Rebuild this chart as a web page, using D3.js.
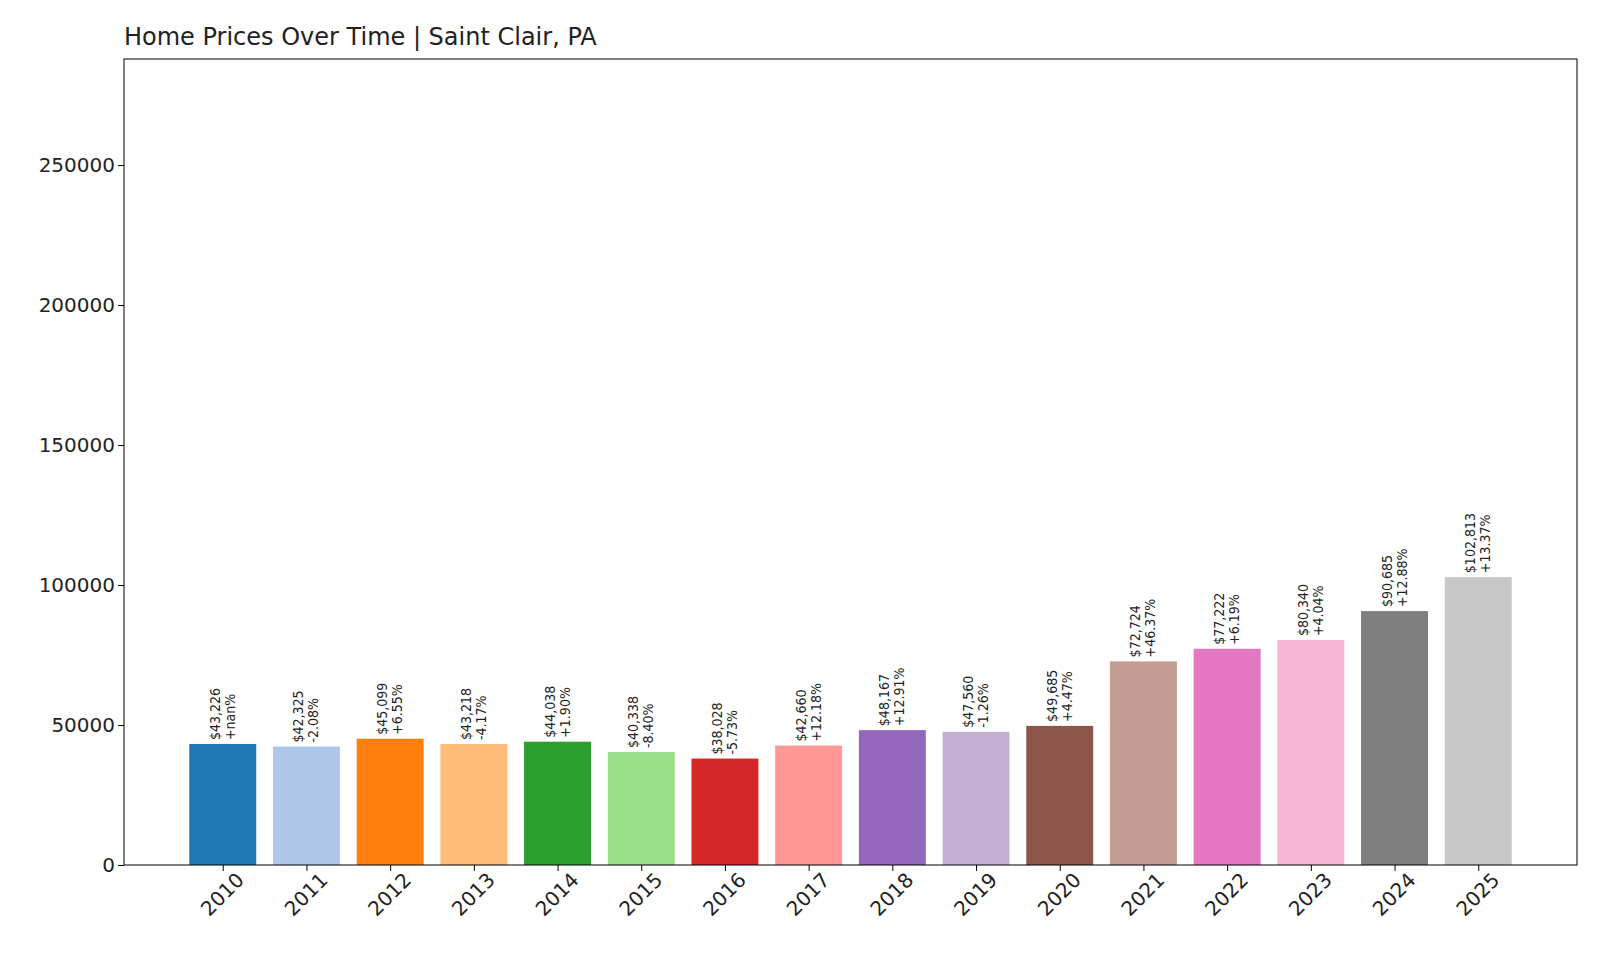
<!DOCTYPE html>
<html><head><meta charset="utf-8">
<script src="https://cdn.jsdelivr.net/npm/d3@7"></script>
<style>body{margin:0;background:#fff;font-family:"DejaVu Sans",sans-serif;}</style>
</head><body><svg id="c" width="1600" height="960"></svg>
<script>
const years=["2010","2011","2012","2013","2014","2015","2016","2017","2018","2019","2020","2021","2022","2023","2024","2025"];
const prices=[43226,42325,45099,43218,44038,40338,38028,42660,48167,47560,49685,72724,77222,80340,90685,102813];
const changes=["+nan%","-2.08%","+6.55%","-4.17%","+1.90%","-8.40%","-5.73%","+12.18%","+12.91%","-1.26%","+4.47%","+46.37%","+6.19%","+4.04%","+12.88%","+13.37%"];
const colors=["#1f77b4","#aec7e8","#ff7f0e","#ffbb78","#2ca02c","#98df8a","#d62728","#ff9896","#9467bd","#c5b0d5","#8c564b","#c49c94","#e377c2","#f7b6d2","#7f7f7f","#c7c7c7"];
const yTicks=[0,50000,100000,150000,200000,250000];
const L=124,R=1577,T=59,B=865;
const svg=d3.select("#c");
const x=d3.scaleLinear().domain([-1.18,years.length-1+1.18]).range([L,R]);
const y=d3.scaleLinear().domain([0,d3.max(prices)*2.8]).range([B,T]);
const bw=x(0.8)-x(0);
svg.selectAll("rect.b").data(prices).join("rect").attr("class","b")
 .attr("x",(d,i)=>x(i)-bw/2).attr("width",bw).attr("y",d=>y(d)).attr("height",d=>B-y(d)).attr("fill",(d,i)=>colors[i]);
const g=svg.selectAll("g.l").data(prices).join("g").attr("class","l")
 .attr("transform",(d,i)=>`translate(${x(i)},${y(d)-4}) rotate(-90)`);
g.append("text").attr("x",0).attr("y",-3).attr("font-size",14).attr("font-family","DejaVu Sans Condensed").attr("fill","#222").text(d=>"$"+d3.format(",")(d));
g.append("text").attr("x",0).attr("y",12).attr("font-size",14).attr("font-family","DejaVu Sans Condensed").attr("fill","#222").text((d,i)=>changes[i]);
svg.append("rect").attr("x",L).attr("y",T).attr("width",R-L).attr("height",B-T).attr("fill","none").attr("stroke","#000");
const ya=svg.append("g").attr("transform",`translate(${L},0)`).call(d3.axisLeft(y).tickValues(yTicks).tickFormat(d=>d).tickSize(6));
ya.select(".domain").remove();
ya.selectAll("text").attr("font-size",20).attr("fill","#222").attr("font-family","DejaVu Sans");
const xa=svg.append("g").attr("transform",`translate(0,${B})`).call(d3.axisBottom(x).tickValues(d3.range(years.length)).tickFormat(i=>years[i]).tickSize(6));
xa.select(".domain").remove();
xa.selectAll("text").attr("font-size",20).attr("fill","#222").attr("font-family","DejaVu Sans")
 .attr("text-anchor","end").attr("dx","0.2em").attr("dy","0.9em").attr("transform","rotate(-45)");
svg.append("text").attr("x",L).attr("y",45).attr("font-size",24).attr("fill","#222").text("Home Prices Over Time | Saint Clair, PA");
</script></body></html>
